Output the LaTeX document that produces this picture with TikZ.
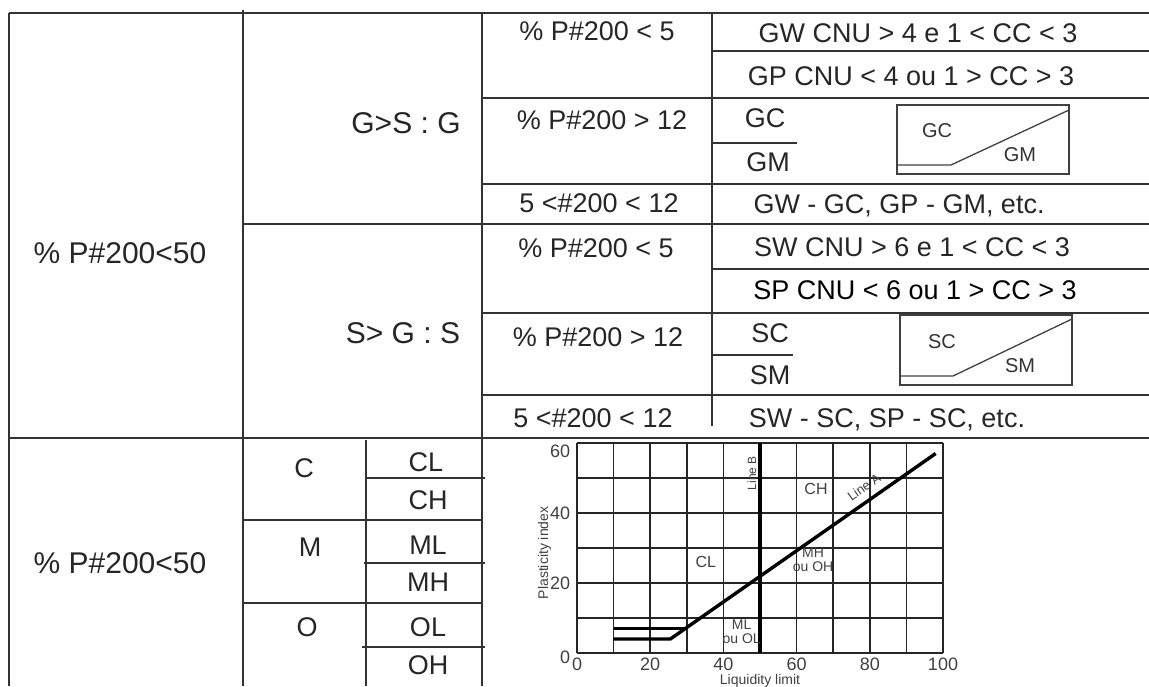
\documentclass[tikz,border=0pt]{standalone}
\usepackage{fontspec}
\setmainfont{Liberation Sans}
\usetikzlibrary{positioning}

\begin{document}
\begin{tikzpicture}[x=1pt, y=-1pt,
        rule/.style={line width=1.6pt, black!80},
        thinrule/.style={line width=1.3pt, black!75},
        cell/.style={font=\fontsize{27}{30}\selectfont, text=black!85, inner sep=0pt, text height=19.5pt, text depth=0pt},
        bigcell/.style={cell, font=\fontsize{30}{32}\selectfont, text height=21.5pt},
        mini/.style={font=\fontsize{20}{20}\selectfont, text=black!80, inner sep=0pt},
        chart/.style={font=\fontsize{14}{14}\selectfont, text=black!75, inner sep=0pt, align=center},
        tick/.style={chart, font=\fontsize{18}{18}\selectfont},
        gridline/.style={line width=1.5pt, black!85},
        boldline/.style={line width=3.4pt, black}]
    \useasboundingbox (0,0) rectangle (1149,686);

    % table
    \draw[rule] (9,13) -- (1149,13)
        (712,51) -- (1149,51)
        (482,98) -- (1149,98)
        (712,143) -- (797,143)
        (482,184) -- (1149,184)
        (243,224) -- (1149,224)
        (712,269) -- (1149,269)
        (482,313) -- (1149,313)
        (712,355) -- (793,355)
        (482,395) -- (1149,395)
        (9,438) -- (1149,438);
    \draw[rule] (9,13) -- (9,686)
        (243,10) -- (243,686)
        (482,13) -- (482,686)
        (712,13) -- (712,426)
        (366,440) -- (366,686);
    \draw[rule] (366,478) -- (485,478)
        (243,520) -- (482,520)
        (364,563) -- (485,563)
        (243,603) -- (482,603)
        (362,647) -- (485,647);

    \node[bigcell] (coarse) at (120,253) {\% P\#200<50};
    \node[bigcell] (fine) at (120,563) {\% P\#200<50};
    \node[bigcell] (grav) at (406,123) {G>S : G};
    \node[bigcell] (sand) at (403,333) {S> G : S};

    \node[cell] (g1) at (597,31) {\% P\#200 < 5};
    \node[cell] (g2) at (602,120) {\% P\#200 > 12};
    \node[cell] (g3) at (599,203) {5 <\#200 < 12};
    \node[cell] (s1) at (596,248) {\% P\#200 < 5};
    \node[cell] (s2) at (598,337) {\% P\#200 > 12};
    \node[cell] (s3) at (593,418) {5 <\#200 < 12};

    \node[cell] (gw) at (918,33) {GW CNU > 4 e 1 < CC < 3};
    \node[cell] (gp) at (911,76) {GP CNU < 4 ou 1 > CC > 3};
    \node[cell] (gc) at (765,118) {GC};
    \node[cell] (gm) at (768,162) {GM};
    \node[cell] (gx) at (899,204) {GW - GC, GP - GM, etc.};
    \node[cell] (sw) at (912,247) {SW CNU > 6 e 1 < CC < 3};
    \node[cell, text=black] (sp) at (915,290) {SP CNU < 6 ou 1 > CC > 3};
    \node[cell] (sc) at (770,333) {SC};
    \node[cell] (sm) at (770,375) {SM};
    \node[cell] (sx) at (887,418) {SW - SC, SP - SC, etc.};

    % little charts
    \draw[thinrule] (897,105) rectangle (1069,174);
    \draw[thinrule] (897,165) -- (951,165) -- (1069,110);
    \node[mini] (gcbox) at (937,131) {GC};
    \node[mini] (gmbox) at (1020,155) {GM};
    \draw[thinrule] (900,315) rectangle (1072,385);
    \draw[thinrule] (900,376) -- (953,376) -- (1072,319);
    \node[mini] (scbox) at (942,342) {SC};
    \node[mini] (smbox) at (1020,366) {SM};

    \node[cell] (c) at (304,468) {C};
    \node[cell] (m) at (310,547) {M};
    \node[cell] (o) at (307,627) {O};
    \node[cell] (cl) at (426,462) {CL};
    \node[cell] (ch) at (428,500) {CH};
    \node[cell] (ml) at (428,545) {ML};
    \node[cell] (mh) at (428,582) {MH};
    \node[cell] (ol) at (428,627) {OL};
    \node[cell] (oh) at (428,665) {OH};

    % plasticity chart
    \begin{scope}[shift={(577,653)}, x=3.66pt, y=3.5pt]
        \foreach \gx in {0,10,...,100}
            \draw[gridline] (\gx,0) -- (\gx,60);
        \foreach \gy in {0,10,...,60}
            \draw[gridline] (0,\gy) -- (100,\gy);
        \draw[boldline] (50,0) -- (50,60);
        \draw[boldline] (10,4) -- (25.5,4) -- (98,57);
        \draw[boldline] (10,7) -- (29.6,7);

        \foreach \v/\h in {0/-1.2,20/20,40/40,60/57.6}
            \node[tick, anchor=east] at (-1.8,\h) {\v};
        \foreach \v in {0,20,...,100}
            \node[tick, anchor=north] at (\v,-1.4) {\v};
        \node[chart] (llimit) at (50,-8) {Liquidity limit};
        \node[chart, rotate=90] (pindex) at (-8.9,28.6) {Plasticity index};
        \node[chart, rotate=90, font=\fontsize{12}{12}\selectfont] (lineb) at (47.8,51.4) {Line B};
        \node[chart, rotate=35, font=\fontsize{13}{13}\selectfont] (linea) at (78.4,47.4) {Line A};
        \node[chart, font=\fontsize{16}{16}\selectfont] (zch) at (65.3,46.9) {CH};
        \node[chart, font=\fontsize{16}{16}\selectfont] (zcl) at (35.2,26) {CL};
        \node[chart] (zmh) at (64.5,26.6) {MH\\ou OH};
        \node[chart] (zml) at (45,6) {ML\\ou OL};
    \end{scope}
\end{tikzpicture}
\end{document}
